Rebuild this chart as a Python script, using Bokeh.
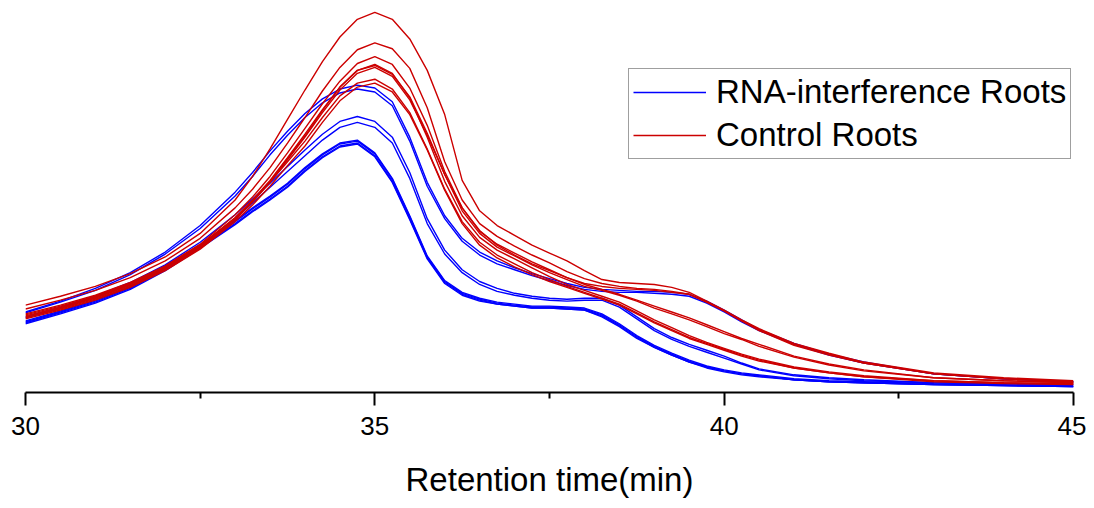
from bokeh.plotting import figure
from bokeh.models import Range1d, FixedTicker, Legend, LegendItem
from bokeh.embed import file_html
from bokeh.resources import INLINE

# Retention time grid (min)
time_min = [30, 30.5, 31, 31.5, 32, 32.5,
            33, 33.25, 33.5, 33.75, 34, 34.25, 34.5, 34.75, 35, 35.25,
            35.5, 35.75, 36, 36.25, 36.5, 36.75, 37, 37.25, 37.5, 37.75,
            38, 38.25, 38.5, 38.75, 39, 39.25, 39.5, 39.75, 40, 40.25,
            40.5, 41, 41.5, 42, 43, 44, 45]

# RNA-interference roots (detector signal, arbitrary units)
rnai_1 = [82, 93, 106, 122, 143, 170, 204, 224, 246, 266, 284, 299, 309, 313, 310, 296, 260, 214, 180, 157, 143, 134, 127, 121, 116, 111, 107, 105, 104, 103, 103, 102, 100, 93, 84, 74, 64, 50, 39, 31, 19, 14, 11]
rnai_2 = [81, 92, 104, 120, 141, 167, 200, 220, 242, 262, 280, 295, 305, 309, 306, 292, 256, 210, 177, 154, 140, 131, 125, 119, 114, 109, 105, 103, 102, 102, 101, 100, 98, 91, 82, 72, 63, 49, 38, 30, 19, 14, 11]
rnai_3 = [77, 87, 98, 112, 130, 153, 181, 197, 213, 230, 247, 263, 276, 281, 276, 260, 224, 177, 145, 125, 113, 106, 101, 98, 96, 95, 96, 96, 89, 77, 65, 56, 49, 43, 37, 30, 24, 18, 15, 13, 10, 9, 8]
rnai_4 = [76, 86, 97, 110, 128, 150, 177, 193, 209, 225, 241, 257, 270, 275, 270, 254, 218, 172, 141, 122, 110, 103, 99, 96, 94, 93, 94, 94, 87, 75, 63, 54, 47, 41, 35, 29, 23, 17, 14, 12, 10, 9, 8]
rnai_5 = [73, 83, 94, 108, 127, 150, 175, 188, 200, 213, 229, 243, 254, 257, 244, 218, 180, 139, 114, 102, 96, 92, 90, 88, 88, 87, 86, 80, 70, 58, 48, 40, 33, 27, 23, 20, 18, 14, 12, 11, 9, 8, 7]
rnai_6 = [72, 82, 93, 107, 126, 149, 174, 187, 199, 212, 228, 242, 253, 256, 243, 217, 179, 138, 113, 101, 95, 91, 89, 87, 87, 86, 85, 79, 69, 57, 47, 39, 32, 26, 22, 19, 17, 13, 11, 10, 8, 7, 6]
rnai_7 = [71, 81, 92, 106, 125, 148, 172, 185, 197, 210, 226, 240, 251, 254, 241, 215, 177, 137, 112, 100, 94, 90, 88, 86, 86, 85, 84, 78, 68, 56, 46, 38, 31, 26, 22, 19, 17, 13, 11, 10, 8, 7, 6]
rnai_8 = [70, 80, 91, 105, 124, 147, 171, 184, 196, 209, 225, 239, 250, 253, 240, 214, 176, 136, 111, 99, 93, 90, 88, 86, 86, 85, 84, 77, 67, 55, 46, 38, 31, 25, 21, 18, 16, 13, 11, 10, 8, 7, 6]

# Control roots
ctrl_1 = [89, 98, 108, 121, 138, 162, 196, 220, 248, 278, 308, 337, 362, 380, 387, 380, 360, 328, 283, 216, 185, 170, 160, 150, 142, 134, 124, 115, 112, 111, 110, 107, 102, 93, 84, 74, 65, 50, 40, 31, 20, 15, 12]
ctrl_2 = [85, 94, 104, 117, 134, 157, 188, 207, 229, 254, 280, 307, 331, 349, 356, 350, 330, 290, 235, 196, 172, 159, 149, 140, 132, 123, 116, 111, 108, 106, 105, 103, 100, 92, 83, 73, 64, 49, 39, 30, 19, 14, 11]
ctrl_3 = [80, 89, 99, 112, 129, 151, 181, 199, 220, 244, 269, 294, 317, 335, 342, 334, 310, 272, 225, 188, 164, 151, 142, 133, 125, 117, 110, 105, 100, 94, 88, 82, 76, 69, 62, 55, 49, 37, 29, 23, 15, 12, 10]
ctrl_4 = [78, 87, 97, 110, 127, 149, 178, 196, 216, 239, 263, 288, 311, 328, 334, 325, 300, 260, 215, 180, 158, 145, 136, 127, 118, 110, 104, 98, 92, 83, 74, 66, 58, 51, 45, 39, 34, 26, 21, 17, 12, 10, 9]
ctrl_5 = [76, 85, 95, 108, 125, 147, 176, 194, 214, 237, 260, 285, 308, 325, 331, 322, 298, 262, 222, 188, 165, 150, 140, 131, 124, 117, 111, 108, 106, 105, 104, 102, 100, 92, 83, 73, 63, 48, 38, 30, 19, 14, 11]
ctrl_6 = [79, 88, 98, 111, 128, 150, 178, 195, 214, 235, 256, 280, 302, 315, 319, 309, 285, 248, 207, 174, 153, 140, 131, 122, 115, 108, 102, 96, 90, 81, 72, 64, 56, 50, 44, 38, 33, 25, 20, 16, 12, 10, 9]
ctrl_7 = [75, 84, 94, 107, 124, 146, 174, 191, 210, 231, 251, 275, 297, 311, 315, 306, 283, 247, 206, 172, 150, 137, 128, 120, 113, 107, 101, 95, 89, 80, 71, 63, 55, 49, 43, 37, 32, 25, 20, 16, 11, 9, 8]
ctrl_8 = [77, 86, 96, 109, 126, 148, 177, 195, 215, 238, 261, 287, 311, 328, 333, 324, 301, 264, 222, 185, 162, 148, 139, 130, 122, 115, 108, 104, 99, 93, 86, 80, 74, 67, 60, 54, 47, 36, 28, 22, 15, 12, 10]

rnai_series = [rnai_1, rnai_2, rnai_3, rnai_4, rnai_5, rnai_6, rnai_7, rnai_8]
ctrl_series = [ctrl_1, ctrl_2, ctrl_3, ctrl_4, ctrl_5, ctrl_6, ctrl_7, ctrl_8]
for s in rnai_series + ctrl_series:
    assert len(s) == len(time_min), len(s)

x_ticks = [30, 35, 40, 45]
x_minor = [32.5, 37.5, 42.5]
legend_labels = ["RNA-interference Roots", "Control Roots"]

BLUE = "#0000FF"
RED = "#CC0000"

p = figure(width=1086, height=500, output_backend="svg", toolbar_location=None,
           x_range=Range1d(30, 45), y_range=Range1d(0, 391),
           min_border_left=25, min_border_right=13, min_border_top=8, min_border_bottom=101)
p.outline_line_color = None
p.grid.visible = False
p.yaxis.visible = False
p.background_fill_color = "white"
p.border_fill_color = "white"

blue_r = []
for s in rnai_series:
    blue_r.append(p.line(time_min, s, line_color=BLUE, line_width=1.4))
red_r = []
for s in ctrl_series:
    red_r.append(p.line(time_min, s, line_color=RED, line_width=1.4))

ax = p.xaxis[0]
ax.ticker = FixedTicker(ticks=x_ticks, minor_ticks=x_minor)
ax.axis_line_width = 2
ax.axis_line_color = "black"
ax.major_tick_line_width = 2
ax.minor_tick_line_width = 2
ax.major_tick_out = 13
ax.major_tick_in = 0
ax.minor_tick_out = 6
ax.minor_tick_in = 0
ax.major_label_text_font = "Liberation Sans"
ax.major_label_text_font_size = "26px"
ax.major_label_text_color = "black"
ax.major_label_standoff = 11
ax.axis_label = "Retention time(min)"
ax.axis_label_text_font = "Liberation Sans"
ax.axis_label_text_font_style = "normal"
ax.axis_label_text_font_size = "33px"
ax.axis_label_text_color = "black"
ax.axis_label_standoff = 23

legend = Legend(items=[LegendItem(label=legend_labels[0], renderers=[blue_r[0]]),
                       LegendItem(label=legend_labels[1], renderers=[red_r[0]])],
                location=(603, 233), margin=0, padding=4, spacing=5,
                glyph_width=73, glyph_height=34, label_height=34, label_standoff=10,
                label_text_font="Liberation Sans", label_text_font_size="33px",
                label_text_color="black", border_line_color="#404040", border_line_width=1,
                background_fill_alpha=1)
p.add_layout(legend)

open("out.html", "w").write(file_html(p, INLINE))
